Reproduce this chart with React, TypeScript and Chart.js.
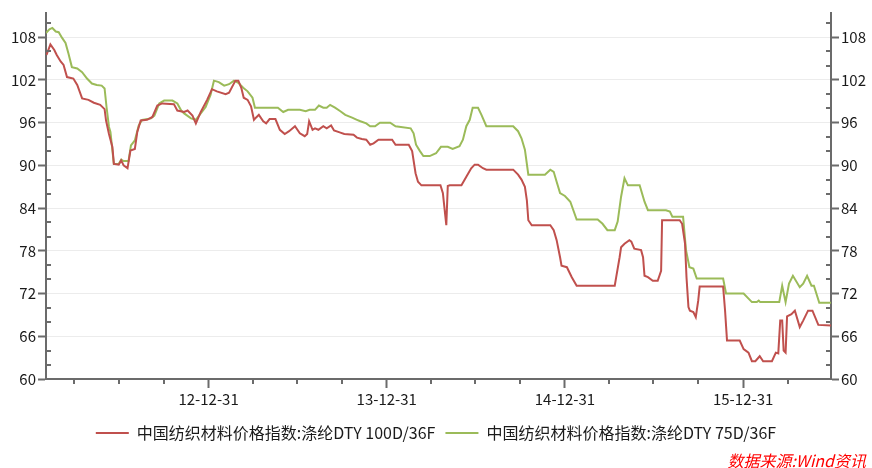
import { useEffect, useRef } from 'react';
import { Chart, registerables } from 'chart.js';

Chart.register(...registerables);

const seriesNames = [
  '中国纺织材料价格指数:涤纶DTY 100D/36F',
  '中国纺织材料价格指数:涤纶DTY 75D/36F',
];
const sourceText = '数据来源:Wind资讯';

const redDates = [
  '2012-02-03', '2012-02-11', '2012-02-19', '2012-02-24', '2012-03-03', '2012-03-09', '2012-03-16', '2012-03-29',
  '2012-04-06', '2012-04-16', '2012-04-29', '2012-05-10', '2012-05-23', '2012-06-01', '2012-06-04', '2012-06-10',
  '2012-06-17', '2012-06-20', '2012-06-30', '2012-07-05', '2012-07-10', '2012-07-18', '2012-07-24', '2012-08-02',
  '2012-08-07', '2012-08-14', '2012-08-27', '2012-09-07', '2012-09-17', '2012-09-27', '2012-10-21', '2012-10-28',
  '2012-11-11', '2012-11-18', '2012-11-28', '2012-12-05', '2012-12-15', '2012-12-28', '2013-01-07', '2013-01-17',
  '2013-02-04', '2013-02-11', '2013-02-24', '2013-03-02', '2013-03-08', '2013-03-13', '2013-03-21', '2013-03-28',
  '2013-04-03', '2013-04-07', '2013-04-13', '2013-04-22', '2013-04-28', '2013-05-05', '2013-05-17', '2013-05-26',
  '2013-06-05', '2013-06-14', '2013-06-26', '2013-07-06', '2013-07-16', '2013-07-21', '2013-07-25', '2013-08-01',
  '2013-08-06', '2013-08-13', '2013-08-23', '2013-08-30', '2013-09-08', '2013-09-14', '2013-09-27', '2013-10-05',
  '2013-10-24', '2013-10-31', '2013-11-10', '2013-11-19', '2013-11-27', '2013-12-04', '2013-12-14', '2014-01-11',
  '2014-01-18', '2014-02-14', '2014-02-21', '2014-02-28', '2014-03-05', '2014-03-12', '2014-04-20', '2014-04-25',
  '2014-04-29', '2014-05-02', '2014-05-05', '2014-05-09', '2014-06-02', '2014-06-12', '2014-06-22', '2014-06-29',
  '2014-07-06', '2014-07-16', '2014-07-23', '2014-09-16', '2014-09-26', '2014-10-03', '2014-10-10', '2014-10-14',
  '2014-10-17', '2014-10-24', '2014-12-01', '2014-12-08', '2014-12-14', '2014-12-21', '2014-12-24', '2015-01-04',
  '2015-01-14', '2015-01-24', '2015-04-12', '2015-04-15', '2015-04-22', '2015-04-25', '2015-05-02', '2015-05-12',
  '2015-05-16', '2015-05-22', '2015-06-05', '2015-06-09', '2015-06-12', '2015-06-19', '2015-06-29', '2015-07-09',
  '2015-07-16', '2015-07-18', '2015-08-23', '2015-08-28', '2015-09-03', '2015-09-06', '2015-09-10', '2015-09-13',
  '2015-09-20', '2015-09-25', '2015-09-30', '2015-10-03', '2015-11-20', '2015-11-24', '2015-11-28', '2015-12-24',
  '2016-01-01', '2016-01-11', '2016-01-18', '2016-01-25', '2016-02-03', '2016-02-10', '2016-02-28', '2016-03-07',
  '2016-03-12', '2016-03-16', '2016-03-20', '2016-03-23', '2016-03-27', '2016-03-30', '2016-04-08', '2016-04-15',
  '2016-04-25', '2016-05-02', '2016-05-12', '2016-05-21', '2016-06-02', '2016-06-28',
];
const redValues = [
  105.5, 107.0, 106.2, 105.5, 104.6, 104.1, 102.4, 102.2,
  101.3, 99.4, 99.2, 98.8, 98.5, 97.9, 96.3, 94.4,
  92.6, 90.2, 90.1, 90.7, 90.0, 89.6, 92.1, 92.3,
  94.7, 96.3, 96.4, 96.8, 98.4, 98.7, 98.6, 97.7,
  97.5, 97.7, 97.0, 95.9, 97.5, 99.2, 100.7, 100.4,
  100.0, 100.2, 101.9, 101.9, 100.9, 99.5, 99.2, 98.3,
  96.4, 96.7, 97.1, 96.2, 95.9, 96.5, 96.5, 95.0,
  94.4, 94.8, 95.5, 94.5, 94.1, 94.4, 96.2, 95.0,
  95.2, 95.0, 95.5, 95.2, 95.6, 94.9, 94.6, 94.4,
  94.3, 93.9, 93.7, 93.6, 92.9, 93.1, 93.6, 93.6,
  92.9, 92.9, 92.0, 88.9, 87.7, 87.2, 87.2, 86.1,
  83.5, 81.6, 87.1, 87.2, 87.2, 88.4, 89.6, 90.1,
  90.1, 89.6, 89.4, 89.4, 88.7, 88.0, 87.0, 85.1,
  82.3, 81.6, 81.6, 80.9, 79.5, 77.1, 75.9, 75.7,
  74.3, 73.1, 73.1, 74.3, 77.1, 78.5, 79.0, 79.5,
  79.3, 78.3, 78.1, 77.1, 74.5, 74.3, 73.8, 73.8,
  75.2, 82.3, 82.3, 81.8, 79.0, 74.3, 70.1, 69.6,
  69.4, 68.7, 71.0, 73.0, 73.0, 69.6, 65.4, 65.4,
  64.2, 63.7, 62.5, 62.5, 63.2, 62.5, 62.5, 63.7,
  63.6, 68.2, 68.2, 64.0, 63.7, 68.8, 69.1, 69.6,
  67.3, 68.2, 69.6, 69.6, 67.6, 67.5,
];

const greenDates = [
  '2012-02-02', '2012-02-09', '2012-02-15', '2012-02-22', '2012-02-28', '2012-03-06', '2012-03-13', '2012-03-19',
  '2012-03-26', '2012-04-06', '2012-04-16', '2012-04-26', '2012-05-06', '2012-05-16', '2012-05-26', '2012-06-01',
  '2012-06-05', '2012-06-10', '2012-06-13', '2012-06-20', '2012-06-30', '2012-07-05', '2012-07-10', '2012-07-20',
  '2012-07-25', '2012-08-02', '2012-08-10', '2012-08-17', '2012-09-04', '2012-09-11', '2012-09-21', '2012-10-01',
  '2012-10-18', '2012-10-28', '2012-11-05', '2012-11-11', '2012-11-25', '2012-12-05', '2012-12-15', '2012-12-25',
  '2013-01-04', '2013-01-11', '2013-01-21', '2013-02-01', '2013-02-11', '2013-02-21', '2013-03-02', '2013-03-12',
  '2013-03-21', '2013-03-31', '2013-04-05', '2013-05-22', '2013-06-02', '2013-06-12', '2013-07-06', '2013-07-18',
  '2013-07-26', '2013-08-06', '2013-08-14', '2013-08-23', '2013-08-30', '2013-09-06', '2013-09-16', '2013-09-27',
  '2013-10-07', '2013-10-21', '2013-10-31', '2013-11-07', '2013-11-19', '2013-11-27', '2013-12-07', '2013-12-17',
  '2014-01-07', '2014-01-18', '2014-02-18', '2014-02-24', '2014-03-01', '2014-03-09', '2014-03-16', '2014-03-29',
  '2014-04-11', '2014-04-21', '2014-05-05', '2014-05-15', '2014-05-29', '2014-06-05', '2014-06-12', '2014-06-19',
  '2014-06-25', '2014-07-06', '2014-07-13', '2014-07-23', '2014-09-16', '2014-09-26', '2014-10-03', '2014-10-10',
  '2014-10-17', '2014-11-20', '2014-12-01', '2014-12-08', '2014-12-14', '2014-12-21', '2014-12-31', '2015-01-11',
  '2015-01-24', '2015-03-08', '2015-03-18', '2015-03-28', '2015-04-12', '2015-04-18', '2015-04-25', '2015-05-02',
  '2015-05-09', '2015-06-02', '2015-06-12', '2015-06-19', '2015-07-26', '2015-08-03', '2015-08-08', '2015-08-30',
  '2015-09-05', '2015-09-12', '2015-09-20', '2015-09-27', '2015-11-20', '2015-11-26', '2016-01-01', '2016-01-18',
  '2016-01-28', '2016-02-01', '2016-02-04', '2016-03-14', '2016-03-20', '2016-03-27', '2016-04-03', '2016-04-11',
  '2016-04-25', '2016-05-02', '2016-05-10', '2016-05-19', '2016-05-24', '2016-06-04', '2016-06-28',
];
const greenValues = [
  108.6, 109.1, 109.3, 108.8, 108.7, 107.9, 107.2, 105.7,
  103.8, 103.6, 103.1, 102.2, 101.5, 101.3, 101.2, 100.8,
  98.2, 95.4, 94.7, 90.2, 90.2, 90.8, 90.6, 90.6,
  92.8, 93.5, 95.6, 96.4, 96.6, 97.0, 98.7, 99.1,
  99.1, 98.7, 97.7, 97.3, 96.6, 96.4, 97.3, 98.2,
  99.9, 101.9, 101.7, 101.2, 101.4, 101.9, 101.6, 100.9,
  100.4, 99.5, 98.1, 98.1, 97.5, 97.8, 97.8, 97.6,
  97.8, 97.8, 98.4, 98.1, 98.1, 98.5, 98.1, 97.6,
  97.1, 96.7, 96.4, 96.2, 95.9, 95.5, 95.5, 96.0,
  96.0, 95.5, 95.2, 94.5, 92.9, 92.0, 91.3, 91.3,
  91.7, 92.6, 92.6, 92.3, 92.7, 93.6, 95.5, 96.4,
  98.1, 98.1, 97.1, 95.5, 95.5, 94.8, 93.8, 92.2,
  88.7, 88.7, 89.4, 89.1, 87.7, 86.1, 85.7, 84.9,
  82.4, 82.4, 81.8, 80.9, 80.9, 82.1, 85.6, 88.2,
  87.2, 87.2, 84.9, 83.7, 83.7, 83.5, 82.8, 82.8,
  78.1, 75.7, 75.5, 74.1, 74.1, 72.0, 72.0, 70.8,
  70.8, 71.0, 70.8, 70.8, 73.1, 70.8, 73.4, 74.5,
  72.9, 73.4, 74.5, 73.1, 73.1, 70.7, 70.7,
];

const yTickValues = [60, 66, 72, 78, 84, 90, 96, 102, 108];
const yMinorStep = 2;
const X_MIN = '2012-02-02';
const X_MAX = '2016-06-28';
const Y_MIN = 60;
const Y_MAX = 111.4;

const RED = '#C0504D';
const GREEN = '#9BBB59';
const AXIS = '#6b6b6b';
const GRID = '#ececec';
const TEXT = '#1a1a1a';
const FONT = '"Noto Sans CJK SC", "Noto Sans", sans-serif';

const ts = (s: string) => {
  const [y, m, d] = s.split('-').map(Number);
  return Date.UTC(y, m - 1, d);
};

const quarterEnds = (() => {
  const out: number[] = [];
  for (let y = 2012; y <= 2016; y++) {
    for (const m of [2, 5, 8, 11]) {
      const v = Date.UTC(y, m + 1, 0);
      if (v >= ts(X_MIN) && v <= ts(X_MAX)) out.push(v);
    }
  }
  return out;
})();

const isYearEnd = (v: number) => new Date(v).getUTCMonth() === 11;

const decorPlugin = {
  id: 'decor',
  afterDraw(chart: any) {
    const { ctx, chartArea, scales } = chart;
    ctx.save();
    ctx.strokeStyle = AXIS;
    ctx.lineWidth = 2;
    ctx.beginPath();
    for (let v = Y_MIN + yMinorStep; v <= Y_MAX; v += yMinorStep) {
      if (yTickValues.includes(v)) continue;
      const py = Math.round(scales.y.getPixelForValue(v));
      ctx.moveTo(chartArea.left, py);
      ctx.lineTo(chartArea.left + 5, py);
      ctx.moveTo(chartArea.right - 5, py);
      ctx.lineTo(chartArea.right, py);
    }
    for (const q of quarterEnds) {
      if (isYearEnd(q)) continue;
      const px = Math.round(scales.x.getPixelForValue(q));
      ctx.moveTo(px, chartArea.bottom);
      ctx.lineTo(px, chartArea.bottom + 5);
    }
    ctx.stroke();
    ctx.font = `italic 16px ${FONT}`;
    ctx.fillStyle = '#ff0000';
    ctx.textAlign = 'right';
    ctx.textBaseline = 'middle';
    ctx.fillText(sourceText, 866, 461);
    ctx.restore();
  },
};

export default function App() {
  const ref = useRef<HTMLCanvasElement>(null);
  useEffect(() => {
    if (!ref.current) return;
    const mk = (dates: string[], vals: number[]) => dates.map((d, i) => ({ x: ts(d), y: vals[i] }));
    const tickFont = { family: FONT, size: 15 };
    const chart = new Chart(ref.current, {
      type: 'line',
      data: {
        datasets: [
          {
            label: seriesNames[0],
            data: mk(redDates, redValues),
            borderColor: RED,
            backgroundColor: RED,
            borderWidth: 2,
            pointRadius: 0,
            tension: 0,
            yAxisID: 'y',
          },
          {
            label: seriesNames[1],
            data: mk(greenDates, greenValues),
            borderColor: GREEN,
            backgroundColor: GREEN,
            borderWidth: 2,
            pointRadius: 0,
            tension: 0,
            yAxisID: 'y',
          },
        ],
      },
      options: {
        animation: false,
        responsive: false,
        devicePixelRatio: 1,
        layout: { padding: { top: 13, left: 0, right: 0, bottom: 17 } },
        plugins: {
          tooltip: { enabled: false },
          legend: {
            position: 'bottom',
            labels: {
              boxWidth: 33,
              boxHeight: 2,
              padding: 10,
              color: TEXT,
              font: { family: FONT, size: 16 },
              generateLabels: (c: any) =>
                c.data.datasets.map((ds: any, i: number) => ({
                  text: ds.label,
                  fillStyle: ds.borderColor,
                  strokeStyle: ds.borderColor,
                  lineWidth: 0,
                  hidden: false,
                  datasetIndex: i,
                  fontColor: TEXT,
                })),
            },
          },
        },
        scales: {
          x: {
            type: 'linear',
            min: ts(X_MIN),
            max: ts(X_MAX),
            afterBuildTicks: (s: any) => {
              s.ticks = quarterEnds.map((v) => ({ value: v }));
            },
            afterFit: (s: any) => {
              s.height = 36;
            },
            ticks: {
              autoSkip: false,
              maxRotation: 0,
              padding: 2,
              color: TEXT,
              font: tickFont,
              callback: (v: any) => {
                const d = new Date(Number(v));
                return d.getUTCMonth() === 11 ? `${String(d.getUTCFullYear()).slice(2)}-12-31` : '';
              },
            },
            grid: {
              drawOnChartArea: false,
              tickLength: 9,
              tickWidth: 2,
              tickColor: (c: any) => (c.tick && isYearEnd(c.tick.value) ? AXIS : 'rgba(0,0,0,0)'),
            },
            border: { color: AXIS, width: 2 },
          },
          y: {
            position: 'left',
            min: Y_MIN,
            max: Y_MAX,
            afterBuildTicks: (s: any) => {
              s.ticks = yTickValues.map((v) => ({ value: v }));
            },
            afterFit: (s: any) => {
              s.width = 46;
            },
            ticks: { padding: 2, color: TEXT, font: tickFont },
            grid: {
              color: (c: any) => (c.tick && c.tick.value === Y_MIN ? 'rgba(0,0,0,0)' : GRID),
              lineWidth: 1,
              tickLength: 8,
              tickWidth: 2,
              tickColor: AXIS,
            },
            border: { color: AXIS, width: 2 },
          },
          y2: {
            position: 'right',
            min: Y_MIN,
            max: Y_MAX,
            afterBuildTicks: (s: any) => {
              s.ticks = yTickValues.map((v) => ({ value: v }));
            },
            afterFit: (s: any) => {
              s.width = 41;
            },
            ticks: { padding: 2, color: TEXT, font: tickFont },
            grid: { drawOnChartArea: false, tickLength: 8, tickWidth: 2, tickColor: AXIS },
            border: { color: AXIS, width: 2 },
          },
        },
      } as any,
      plugins: [decorPlugin],
    });
    return () => chart.destroy();
  }, []);
  return (
    <div style={{ position: 'absolute', left: 0, top: 0, width: 872, height: 468, background: '#fff' }}>
      <canvas ref={ref} width={872} height={468} style={{ display: 'block' }} />
    </div>
  );
}
